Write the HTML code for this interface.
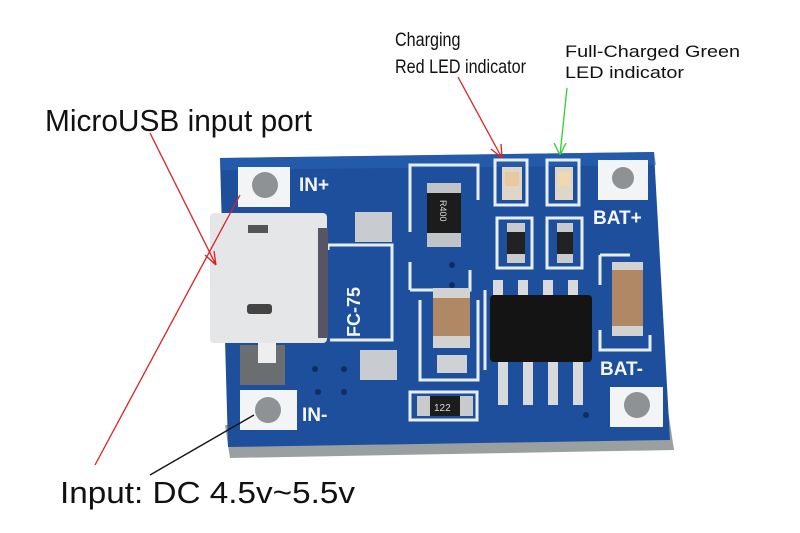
<!DOCTYPE html>
<html><head><meta charset="utf-8"><style>
html,body{margin:0;padding:0;background:#fff;width:800px;height:533px;overflow:hidden}
svg{display:block}
</style></head><body>
<svg width="800" height="533" viewBox="0 0 800 533" xmlns="http://www.w3.org/2000/svg" font-family="Liberation Sans, sans-serif">
<rect width="800" height="533" fill="#fff"/>
<polygon points="225,425 668,410 674,450 230,458" fill="#9aa0a0"/>
<polygon points="220,158 654,152 670,440 228,447" fill="#1d4f9c"/>
<polygon points="220,158 654,152 656,165 222,170" fill="#2a62b4" opacity="0.6"/>
<g fill="none" stroke="#e8eef8" stroke-width="3">
<path d="M410,232 L410,165 L478,165 L478,200"/>
<path d="M410,262 L410,290"/>
<path d="M410,290 L470,290 L470,270"/>
<path d="M420,300 L420,380 L478,380 L478,300"/>
<path d="M495,160 L527,160 L527,205 L495,205 Z"/>
<path d="M547,160 L579,160 L579,205 L547,205 Z"/>
<path d="M497,218 L532,218 L532,268 L497,268 Z"/>
<path d="M547,218 L582,218 L582,268 L547,268 Z"/>
<path d="M600,255 L600,285 M600,330 L600,350 L650,350 L650,335 M600,255 L630,255"/>
<path d="M328,250 L328,245 L392,245 L392,340 L330,340"/>
<path d="M410,392 L477,392 L477,420 L410,420 Z"/>
<path d="M485,290 L485,370"/>
</g>
<rect x="238" y="167" width="52" height="40" fill="#f2f4f6"/>
<circle cx="265" cy="185" r="13" fill="#8e9294"/>
<rect x="240" y="390" width="57" height="40" fill="#f2f4f6"/>
<circle cx="268" cy="410" r="13" fill="#8e9294"/>
<rect x="598" y="160" width="50" height="40" fill="#f2f4f6"/>
<circle cx="623" cy="178" r="11" fill="#8e9294"/>
<rect x="610" y="387" width="53" height="40" fill="#f2f4f6"/>
<circle cx="637" cy="405" r="13" fill="#8e9294"/>
<rect x="355" y="212" width="37" height="30" fill="#c8ccd0"/>
<rect x="360" y="350" width="37" height="30" fill="#c8ccd0"/>
<rect x="210" y="213" width="117" height="130" rx="4" fill="#e4e6e8"/>
<rect x="248" y="225" width="20" height="8" fill="#555"/>
<rect x="247" y="304" width="25" height="10" rx="3" fill="#444"/>
<rect x="318" y="228" width="10" height="110" fill="#556"/>
<rect x="240" y="345" width="45" height="40" fill="#6a6e70"/>
<rect x="258" y="343" width="18" height="20" fill="#eee"/>
<rect x="427" y="183" width="34" height="12" fill="#c0c4c6"/>
<rect x="427" y="193" width="34" height="40" fill="#1c1c1c"/>
<rect x="427" y="233" width="34" height="14" fill="#c0c4c6"/>
<text x="0" y="0" transform="translate(440,200) rotate(90)" font-size="9" fill="#ddd">R400</text>
<rect x="433" y="288" width="37" height="12" fill="#d2d2d0"/>
<rect x="433" y="298" width="37" height="40" fill="#b08866"/>
<rect x="433" y="336" width="37" height="12" fill="#d2d2d0"/>
<rect x="437" y="355" width="30" height="18" fill="#cfd2d4"/>
<rect x="612" y="262" width="31" height="10" fill="#d2d2d0"/>
<rect x="612" y="270" width="31" height="58" fill="#b08866"/>
<rect x="612" y="326" width="31" height="10" fill="#d2d2d0"/>
<rect x="502" y="167" width="20" height="33" fill="#e0d6c8"/>
<rect x="505" y="172" width="14" height="14" fill="#e8c8a0"/>
<rect x="555" y="167" width="18" height="33" fill="#e0d6c8"/>
<rect x="558" y="172" width="12" height="14" fill="#f0d8b0"/>
<rect x="507" y="223" width="18" height="40" fill="#c8cacc"/>
<rect x="507" y="232" width="18" height="22" fill="#222"/>
<rect x="557" y="223" width="16" height="40" fill="#c8cacc"/>
<rect x="557" y="232" width="16" height="22" fill="#222"/>
<rect x="417" y="396" width="56" height="20" fill="#c8cacc"/>
<rect x="430" y="396" width="30" height="20" fill="#1c1c1c"/>
<text x="434" y="411" font-size="10" fill="#ddd">122</text>
<g fill="#d8dadc">
<rect x="493" y="280" width="10" height="15"/><rect x="518" y="280" width="10" height="15"/><rect x="543" y="280" width="10" height="15"/><rect x="568" y="280" width="10" height="15"/>
<rect x="498" y="360" width="10" height="45"/><rect x="523" y="360" width="10" height="45"/><rect x="548" y="360" width="10" height="45"/><rect x="573" y="360" width="10" height="45"/>
</g>
<rect x="490" y="295" width="102" height="67" rx="4" fill="#141414"/>
<g fill="#0d2f5e"><circle cx="315" cy="369" r="3"/><circle cx="344" cy="369" r="3"/><circle cx="318" cy="392" r="3"/><circle cx="344" cy="392" r="3"/><circle cx="586" cy="415" r="3"/><circle cx="452" cy="265" r="3"/><circle cx="452" cy="285" r="3"/></g>
<g fill="#f4f6fa" font-weight="bold" font-size="19">
<text x="299" y="191">IN+</text>
<text x="302" y="421">IN-</text>
<text x="593" y="224">BAT+</text>
<text x="600" y="375">BAT-</text>
<text transform="translate(360,337) rotate(-90)" font-size="18">FC-75</text>
</g>
<g fill="#111">
<text x="45" y="131" font-size="31" textLength="267" lengthAdjust="spacingAndGlyphs">MicroUSB input port</text>
<text x="60" y="503" font-size="31" textLength="295" lengthAdjust="spacingAndGlyphs">Input: DC 4.5v~5.5v</text>
<text transform="translate(395,46) scale(0.85,1)" font-size="19">Charging</text>
<text transform="translate(395,73) scale(0.85,1)" font-size="19">Red LED indicator</text>
<text x="565" y="57" font-size="17" textLength="175" lengthAdjust="spacingAndGlyphs">Full-Charged Green</text>
<text x="565" y="78" font-size="17" textLength="119" lengthAdjust="spacingAndGlyphs">LED indicator</text>
</g>
<g stroke-width="1.3" fill="none">
<path d="M150,133 L216,265 M216,265 L205,255 M216,265 L214,251" stroke="#e02020"/>
<path d="M95,465 L240,195" stroke="#e02020"/>
<path d="M458,77 L502,158 M502,158 L491,149 M502,158 L501,144" stroke="#e02020"/>
<path d="M567,88 L560,155 M560,155 L554,143 M560,155 L566,143" stroke="#30d030"/>
<path d="M150,475 L254,415" stroke="#111"/>
</g>
</svg>
</body></html>
